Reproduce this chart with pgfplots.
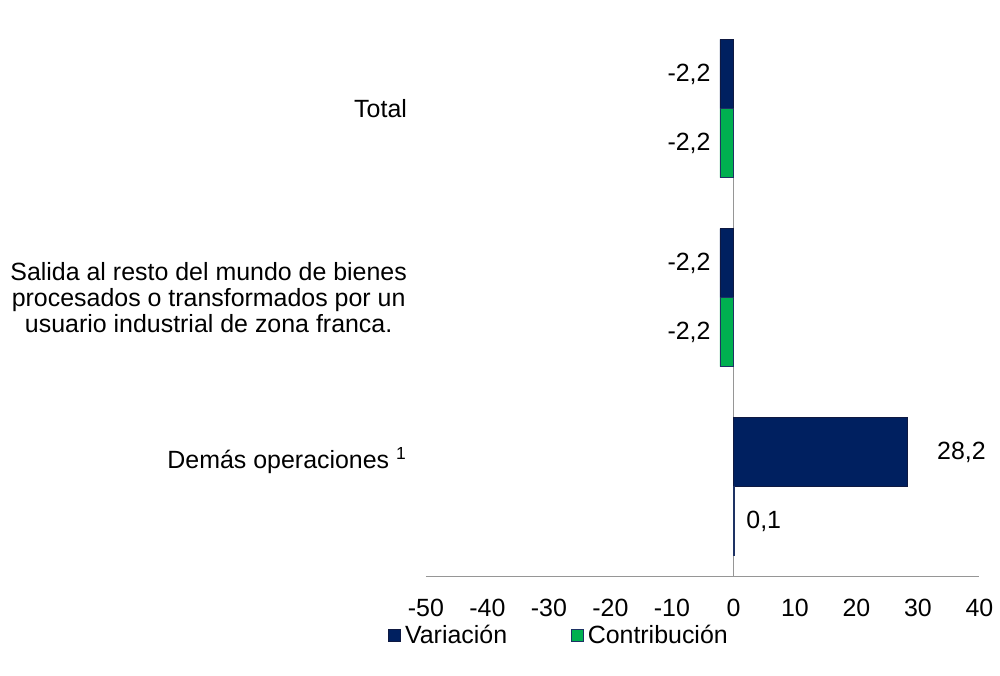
\documentclass[border=0pt]{standalone}
\usepackage{fontspec}
\setmainfont{Liberation Sans}
\usepackage{pgfplots}
\pgfplotsset{compat=1.18}
\definecolor{navy}{RGB}{0,32,96}
\definecolor{navyedge}{RGB}{15,25,65}
\definecolor{grn}{RGB}{0,176,80}
\definecolor{grnedge}{RGB}{30,50,100}
\definecolor{axgray}{RGB}{150,150,150}
\begin{document}
\begin{tikzpicture}
\path (0,0) rectangle (500pt,338.5pt);
\begin{axis}[
  at={(213.5pt,49.5pt)}, anchor=south west,
  scale only axis, width=277.5pt, height=282pt,
  xmin=-50, xmax=40, ymin=-0.475, ymax=2.5,
  xtick={-50,-40,...,40},
  ytick={0.137,1,2},
  yticklabels={{Demás operaciones \textsuperscript{1}},{Salida al resto del mundo de bienes\\procesados o transformados por un\\usuario industrial de zona franca.},{Total}},
  axis lines*=left,
  x axis line style={axgray, line width=0.8pt},
  y axis line style={draw=none},
  major tick length=0pt,
  tick style={draw=none},
  /pgf/number format/assume math mode=true,
  font=\fontsize{12.5pt}{13pt}\selectfont,
  xticklabel style={font=\fontsize{12.5pt}{13pt}\selectfont, yshift=-8pt},
  yticklabel style={font=\fontsize{12.5pt}{13pt}\selectfont, align=center, xshift=-6pt},
  xbar, bar width=0.365,
  clip=false,
  point meta=x,
  visualization depends on={x \as \rawx},
  nodes near coords={\pgfmathprintnumber[use comma,fixed,fixed zerofill,precision=1]{\pgfplotspointmeta}},
  nodes near coords align=horizontal,
  every node near coord/.append style={font=\fontsize{12.5pt}{13pt}\selectfont, black, inner xsep=6pt,
    xshift={(\rawx>10)*9pt + (\rawx<0)*1.5pt}},
  legend style={draw=none, at={(0.2423,-0.105)}, anchor=center, legend columns=2,
    font=\fontsize{12.5pt}{13pt}\selectfont,
    /tikz/every even column/.append style={column sep=30pt},
    inner sep=0pt},
  legend cell align=left,
  legend image code/.code={\draw[#1] (0pt,-3pt) rectangle (6pt,3pt);},
]
\draw[axgray, line width=0.8pt] (axis cs:0,-0.475) -- (axis cs:0,2.354);
\addplot[fill=navy, draw=navyedge, bar shift=0.1825] coordinates {(28.2,0) (-2.2,1) (-2.2,2)};
\addplot[fill=grn, draw=grnedge, bar shift=-0.1825] coordinates {(0.1,0) (-2.2,1) (-2.2,2)};
\legend{Variación, Contribución}
\end{axis}
\end{tikzpicture}
\end{document}
